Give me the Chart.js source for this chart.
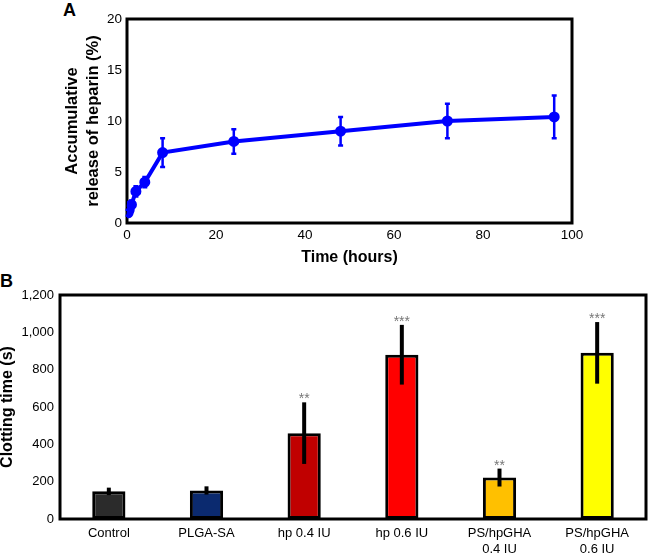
<!DOCTYPE html>
<html>
<head>
<meta charset="utf-8">
<script src="https://cdn.jsdelivr.net/npm/chart.js@4.4.0/dist/chart.umd.min.js"></script>
<style>
  html, body { margin: 0; padding: 0; background: #fff; }
  #wrap { position: relative; width: 648px; height: 553px; overflow: hidden; font-family: 'Liberation Sans', Arial, sans-serif; }
  .panel { position: absolute; font-weight: bold; font-size: 18px; line-height: 1; color: #000; }
  #boxA { position: absolute; left: 0; top: 0; }
  #boxB { position: absolute; left: 0; top: 270px; }
</style>
</head>
<body>
<div id="wrap">
  <div class="panel" style="left:63px; top:1px;">A</div>
  <div class="panel" style="left:0px; top:272px;">B</div>
  <canvas id="boxA" width="648" height="270"></canvas>
  <canvas id="boxB" width="648" height="283"></canvas>
</div>
<script>
// panel A: heparin release over time
const hours = [0.25, 0.5, 1, 2, 4, 8, 24, 48, 72, 96];
const release = [1.0, 1.3, 1.8, 3.1, 4.0, 6.9, 8.0, 9.0, 10.0, 10.4];
const releaseErr = [0.3, 0.4, 0.4, 0.5, 0.5, 1.4, 1.2, 1.4, 1.7, 2.1];
const yTicksA = [0, 5, 10, 15, 20];
const xTicksA = [0, 20, 40, 60, 80, 100];

// panel B: clotting time
const groups = ['Control', 'PLGA-SA', 'hp 0.4 IU', 'hp 0.6 IU', ['PS/hpGHA', '0.4 IU'], ['PS/hpGHA', '0.6 IU']];
const clotTime = [148, 153, 460, 880, 222, 890];
const clotErr = [20, 22, 165, 160, 48, 165];
const stars = ['', '', '**', '***', '**', '***'];
const barColors = ['#2b2b2b', '#0b2a6f', '#c00000', '#ff0000', '#ffc000', '#ffff00'];
const yTicksB = [0, 200, 400, 600, 800, 1000, 1200];

Chart.defaults.font.family = "'Liberation Sans', Arial, sans-serif";
Chart.defaults.color = '#000';

const frame = {
  id: 'frame',
  beforeDatasetsDraw(chart) {
    const a = chart.chartArea, c = chart.ctx;
    c.save();
    c.strokeStyle = '#000';
    c.lineWidth = 3;
    c.strokeRect(a.left, a.top, a.right - a.left, a.bottom - a.top);
    c.restore();
  }
};

const errA = {
  id: 'errA',
  afterDatasetsDraw(chart) {
    const c = chart.ctx, x = chart.scales.x, y = chart.scales.y;
    c.save();
    c.strokeStyle = '#0000ff';
    c.lineWidth = 2.5;
    hours.forEach((h, i) => {
      const px = x.getPixelForValue(h);
      const top = y.getPixelForValue(release[i] + releaseErr[i]);
      const bot = y.getPixelForValue(release[i] - releaseErr[i]);
      c.beginPath();
      c.moveTo(px, top); c.lineTo(px, bot);
      c.moveTo(px - 2.5, top); c.lineTo(px + 2.5, top);
      c.moveTo(px - 2.5, bot); c.lineTo(px + 2.5, bot);
      c.stroke();
    });
    c.restore();
  }
};

new Chart(document.getElementById('boxA'), {
  type: 'line',
  data: {
    datasets: [{
      data: hours.map((h, i) => ({ x: h, y: release[i] })),
      borderColor: '#0000ff',
      backgroundColor: '#0000ff',
      borderWidth: 4,
      pointRadius: 3.5,
      tension: 0
    }]
  },
  options: {
    responsive: false,
    animation: false,
    layout: { padding: { left: 0, right: 76, top: 19, bottom: 0 } },
    plugins: { legend: { display: false }, tooltip: { enabled: false } },
    scales: {
      x: {
        type: 'linear', min: 0, max: 100,
        afterBuildTicks: s => { s.ticks = xTicksA.map(v => ({ value: v })); },
        afterFit: s => { s.height = 47; },
        grid: { display: false, drawTicks: false }, border: { display: false },
        ticks: { padding: 4, font: { size: 13.5 } },
        title: { display: true, text: 'Time (hours)', font: { size: 16, weight: 'bold' }, padding: { top: 0, bottom: 3 } }
      },
      y: {
        min: 0, max: 20,
        afterBuildTicks: s => { s.ticks = yTicksA.map(v => ({ value: v })); },
        afterFit: s => { s.width = 127; },
        grid: { display: false, drawTicks: false }, border: { display: false },
        ticks: { padding: 5, font: { size: 13.5 } },
        title: {
          display: true, text: ['Accumulative', 'release of heparin (%)'],
          font: { size: 16.5, weight: 'bold', lineHeight: 1.27 }, padding: { top: 62, bottom: 0 }
        }
      }
    }
  },
  plugins: [frame, errA]
});

const errB = {
  id: 'errB',
  afterDatasetsDraw(chart) {
    const c = chart.ctx, x = chart.scales.x, y = chart.scales.y;
    c.save();
    clotTime.forEach((v, i) => {
      const px = x.getPixelForValue(i);
      const top = y.getPixelForValue(v + clotErr[i]);
      const bot = y.getPixelForValue(v - clotErr[i]);
      c.strokeStyle = '#000';
      c.lineWidth = 4;
      c.beginPath();
      c.moveTo(px, top); c.lineTo(px, bot);
      c.stroke();
      if (stars[i]) {
        c.fillStyle = '#777';
        c.font = "14px 'Liberation Sans', Arial, sans-serif";
        c.textAlign = 'center';
        c.textBaseline = 'alphabetic';
        c.fillText(stars[i], px, top + 1);
      }
    });
    c.restore();
  }
};

new Chart(document.getElementById('boxB'), {
  type: 'bar',
  data: {
    labels: groups,
    datasets: [{
      data: clotTime,
      backgroundColor: barColors,
      borderColor: '#000',
      borderWidth: 3,
      borderSkipped: false,
      categoryPercentage: 1,
      barPercentage: 0.34
    }]
  },
  options: {
    responsive: false,
    animation: false,
    layout: { padding: { left: 0, right: 2, top: 25, bottom: 0 } },
    plugins: { legend: { display: false }, tooltip: { enabled: false } },
    scales: {
      x: {
        afterFit: s => { s.height = 34; },
        grid: { display: false, drawTicks: false }, border: { display: false },
        ticks: { padding: 7, font: { size: 13, lineHeight: 1.18 }, maxRotation: 0, autoSkip: false }
      },
      y: {
        min: 0, max: 1200,
        afterBuildTicks: s => { s.ticks = yTicksB.map(v => ({ value: v })); },
        afterFit: s => { s.width = 60; },
        grid: { display: false, drawTicks: false }, border: { display: false },
        ticks: { padding: 6, font: { size: 13 }, callback: v => v.toLocaleString('en-US') },
        title: { display: true, text: 'Clotting time (s)', font: { size: 16, weight: 'bold', lineHeight: 1 }, padding: { top: 0, bottom: 0 } }
      }
    }
  },
  plugins: [frame, errB]
});
</script>
</body>
</html>
